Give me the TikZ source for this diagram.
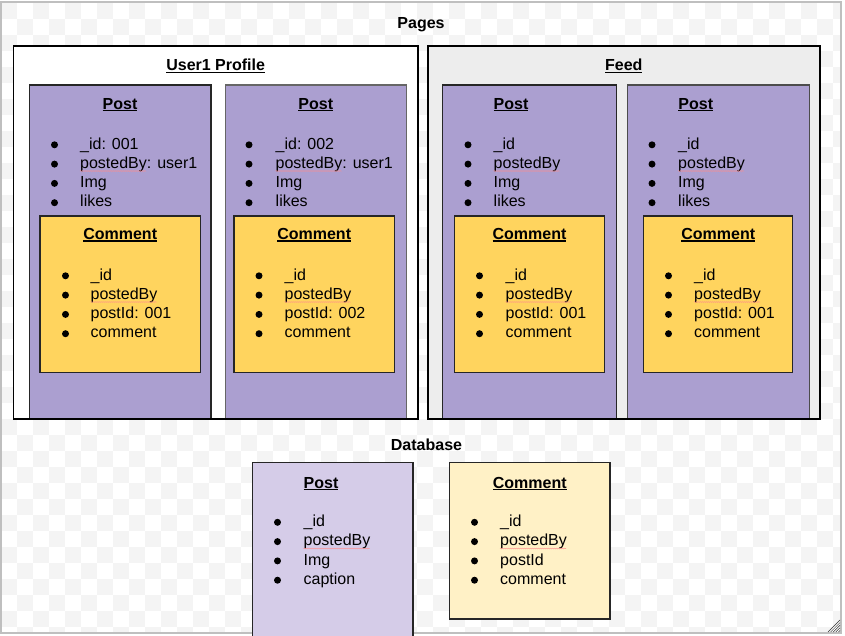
\documentclass[tikz,border=0pt]{standalone}
\usepackage{fontspec}
\setmainfont{Liberation Sans}
\usetikzlibrary{decorations.pathmorphing}
\definecolor{postpurple}{HTML}{AB9FD0}
\definecolor{comyellow}{HTML}{FFD45E}
\definecolor{dbpurple}{HTML}{D5CCE8}
\definecolor{dbyellow}{HTML}{FFF1C6}
\definecolor{feedgray}{HTML}{EDEDED}
\definecolor{checkgray}{HTML}{F4F4F4}
\definecolor{framegray}{HTML}{BFBFBF}
\newcommand\ultitle[1]{\setbox0\hbox{#1}\rlap{\rule[-2.4pt]{\wd0}{1.3pt}}\box0}
\newcommand\mkbox[6]{\node[#2, minimum width=#5-#3, minimum height=#6-#4, inner sep=0pt, outer sep=0pt] (#1) at ({(#3+#5)/2},{(#4+#6)/2}) {};}
\newcommand\fld[5]{\node[dot] (#1d) at (#2,#4-4.2) {};\node[fldtxt] (#1) at (#3,#4) {#5};}
\newcommand\squig[1]{\draw[squig] ([yshift=-2.8pt]#1.base west) -- ([xshift=66pt,yshift=-2.8pt]#1.base west);}
\begin{document}
\begin{tikzpicture}[x=1pt,y=-1pt,
  every node/.style={font=\fontsize{16}{19}\selectfont},
  ttl/.style={anchor=base, inner sep=0pt, font=\fontsize{16}{19}\selectfont\bfseries},
  fldtxt/.style={anchor=base west, inner sep=0pt},
  dot/.style={circle, fill=black, inner sep=0pt, minimum size=7pt},
  container/.style={draw=black, line width=1.6pt},
  postbox/.style={fill=postpurple, draw=black!85, line width=1.3pt},
  combox/.style={fill=comyellow, draw=black!85, line width=1.3pt},
  squig/.style={draw=red!45, line width=0.35pt, decorate, decoration={snake, amplitude=0.5pt, segment length=2pt}},
  grip/.style={draw=black!80, line width=0.5pt}]
\useasboundingbox (0,0) rectangle (845,635);
% checkerboard background
\begin{scope}
\clip (1,2) rectangle (841,633);
\foreach \j in {0,...,39}{
  \pgfmathtruncatemacro\s{mod(\j,2)}
  \pgfmathtruncatemacro\t{\s+2}
  \foreach \i in {\s,\t,...,52}{
    \fill[checkgray] ({0.7+16*\i},{3+16*\j}) rectangle +(16,16);
  }
}
\end{scope}
\draw[framegray, line width=1.2pt] (1,2) rectangle (841,633);
\foreach \k in {0,...,4}{\draw[grip] ({828+2.6*\k},632) -- (840,{620+2.6*\k});}

% Pages
\node[ttl] (pages) at (421,28) {Pages};
\mkbox{user1}{container, fill=white}{13.3}{45.7}{417.7}{419}
\mkbox{feed}{container, fill=feedgray}{427.7}{45.7}{820}{419}
\node[ttl] (user1t) at (215.7,70.5) {\ultitle{User1 Profile}};
\node[ttl] (feedt) at (623.8,70.7) {\ultitle{Feed}};

% posts
\mkbox{p1}{postbox}{29.3}{85}{211}{419}
\mkbox{p2}{postbox, draw=black!60}{225.3}{85}{406.7}{419}
\mkbox{p3}{postbox}{442.7}{85}{616.7}{419}
\mkbox{p4}{postbox, draw=black!70}{627.3}{85}{809.3}{419}
\draw[line width=1.6pt] (user1.south west) -- (user1.south east);
\draw[line width=1.6pt] (feed.south west) -- (feed.south east);

\node[ttl] (p1t) at (120,109) {\ultitle{Post}};
\node[ttl] (p2t) at (315.8,109) {\ultitle{Post}};
\node[ttl] (p3t) at (511,109) {\ultitle{Post}};
\node[ttl] (p4t) at (695.8,109) {\ultitle{Post}};

\fld{p1a}{54.5}{80}{149}{\_id: 001}
\fld{p1b}{54.5}{80}{168.3}{postedBy: user1}
\fld{p1c}{54.5}{80}{187.6}{Img}
\fld{p1e}{54.5}{80}{206.9}{likes}
\fld{p2a}{249}{275.5}{149}{\_id: 002}
\fld{p2b}{249}{275.5}{168.3}{postedBy: user1}
\fld{p2c}{249}{275.5}{187.6}{Img}
\fld{p2e}{249}{275.5}{206.9}{likes}
\fld{p3a}{468}{493.5}{149}{\_id}
\fld{p3b}{468}{493.5}{168.3}{postedBy}
\fld{p3c}{468}{493.5}{187.6}{Img}
\fld{p3e}{468}{493.5}{206.9}{likes}
\fld{p4a}{652}{678}{149}{\_id}
\fld{p4b}{652}{678}{168.3}{postedBy}
\fld{p4c}{652}{678}{187.6}{Img}
\fld{p4e}{652}{678}{206.9}{likes}

% comments
\mkbox{c1}{combox}{40}{216}{200.7}{372.3}
\mkbox{c2}{combox}{234}{216}{394.3}{372.3}
\mkbox{c3}{combox}{454.7}{216}{604.3}{372.3}
\mkbox{c4}{combox}{643.3}{216}{792.7}{372.3}
\node[ttl] (c1t) at (120.2,239.3) {\ultitle{Comment}};
\node[ttl] (c2t) at (314.2,239.3) {\ultitle{Comment}};
\node[ttl] (c3t) at (529.5,239.3) {\ultitle{Comment}};
\node[ttl] (c4t) at (718.3,239.3) {\ultitle{Comment}};

\fld{c1a}{65.5}{90.5}{280}{\_id}
\fld{c1b}{65.5}{90.5}{299.3}{postedBy}
\fld{c1c}{65.5}{90.5}{318.6}{postId: 001}
\fld{c1e}{65.5}{90.5}{337.9}{comment}
\fld{c2a}{259}{284.5}{280}{\_id}
\fld{c2b}{259}{284.5}{299.3}{postedBy}
\fld{c2c}{259}{284.5}{318.6}{postId: 002}
\fld{c2e}{259}{284.5}{337.9}{comment}
\fld{c3a}{479.5}{505.5}{280}{\_id}
\fld{c3b}{479.5}{505.5}{299.3}{postedBy}
\fld{c3c}{479.5}{505.5}{318.6}{postId: 001}
\fld{c3e}{479.5}{505.5}{337.9}{comment}
\fld{c4a}{668.5}{694}{280}{\_id}
\fld{c4b}{668.5}{694}{299.3}{postedBy}
\fld{c4c}{668.5}{694}{318.6}{postId: 001}
\fld{c4e}{668.5}{694}{337.9}{comment}

% database
\node[ttl] (dbt) at (426.5,450) {Database};
\mkbox{dbp}{postbox, fill=dbpurple}{252.3}{462.7}{413}{645}
\mkbox{dbc}{combox, fill=dbyellow}{449.3}{462.7}{610}{619}
\node[ttl] (dbpt) at (321,488) {\ultitle{Post}};
\node[ttl] (dbct) at (529.8,488) {\ultitle{Comment}};
\fld{dpa}{277.5}{303.5}{526.5}{\_id}
\fld{dpb}{277.5}{303.5}{545.8}{postedBy}
\fld{dpc}{277.5}{303.5}{565.1}{Img}
\fld{dpe}{277.5}{303.5}{584.4}{caption}
\fld{dca}{474.5}{500}{526.5}{\_id}
\fld{dcb}{474.5}{500}{545.8}{postedBy}
\fld{dcc}{474.5}{500}{565.1}{postId}
\fld{dce}{474.5}{500}{584.4}{comment}

% spell-check squiggles
\squig{p1b}\squig{p2b}\squig{p3b}\squig{p4b}
\squig{c1b}\squig{c2b}\squig{c3b}\squig{c4b}
\squig{dpb}\squig{dcb}
\end{tikzpicture}
\end{document}
